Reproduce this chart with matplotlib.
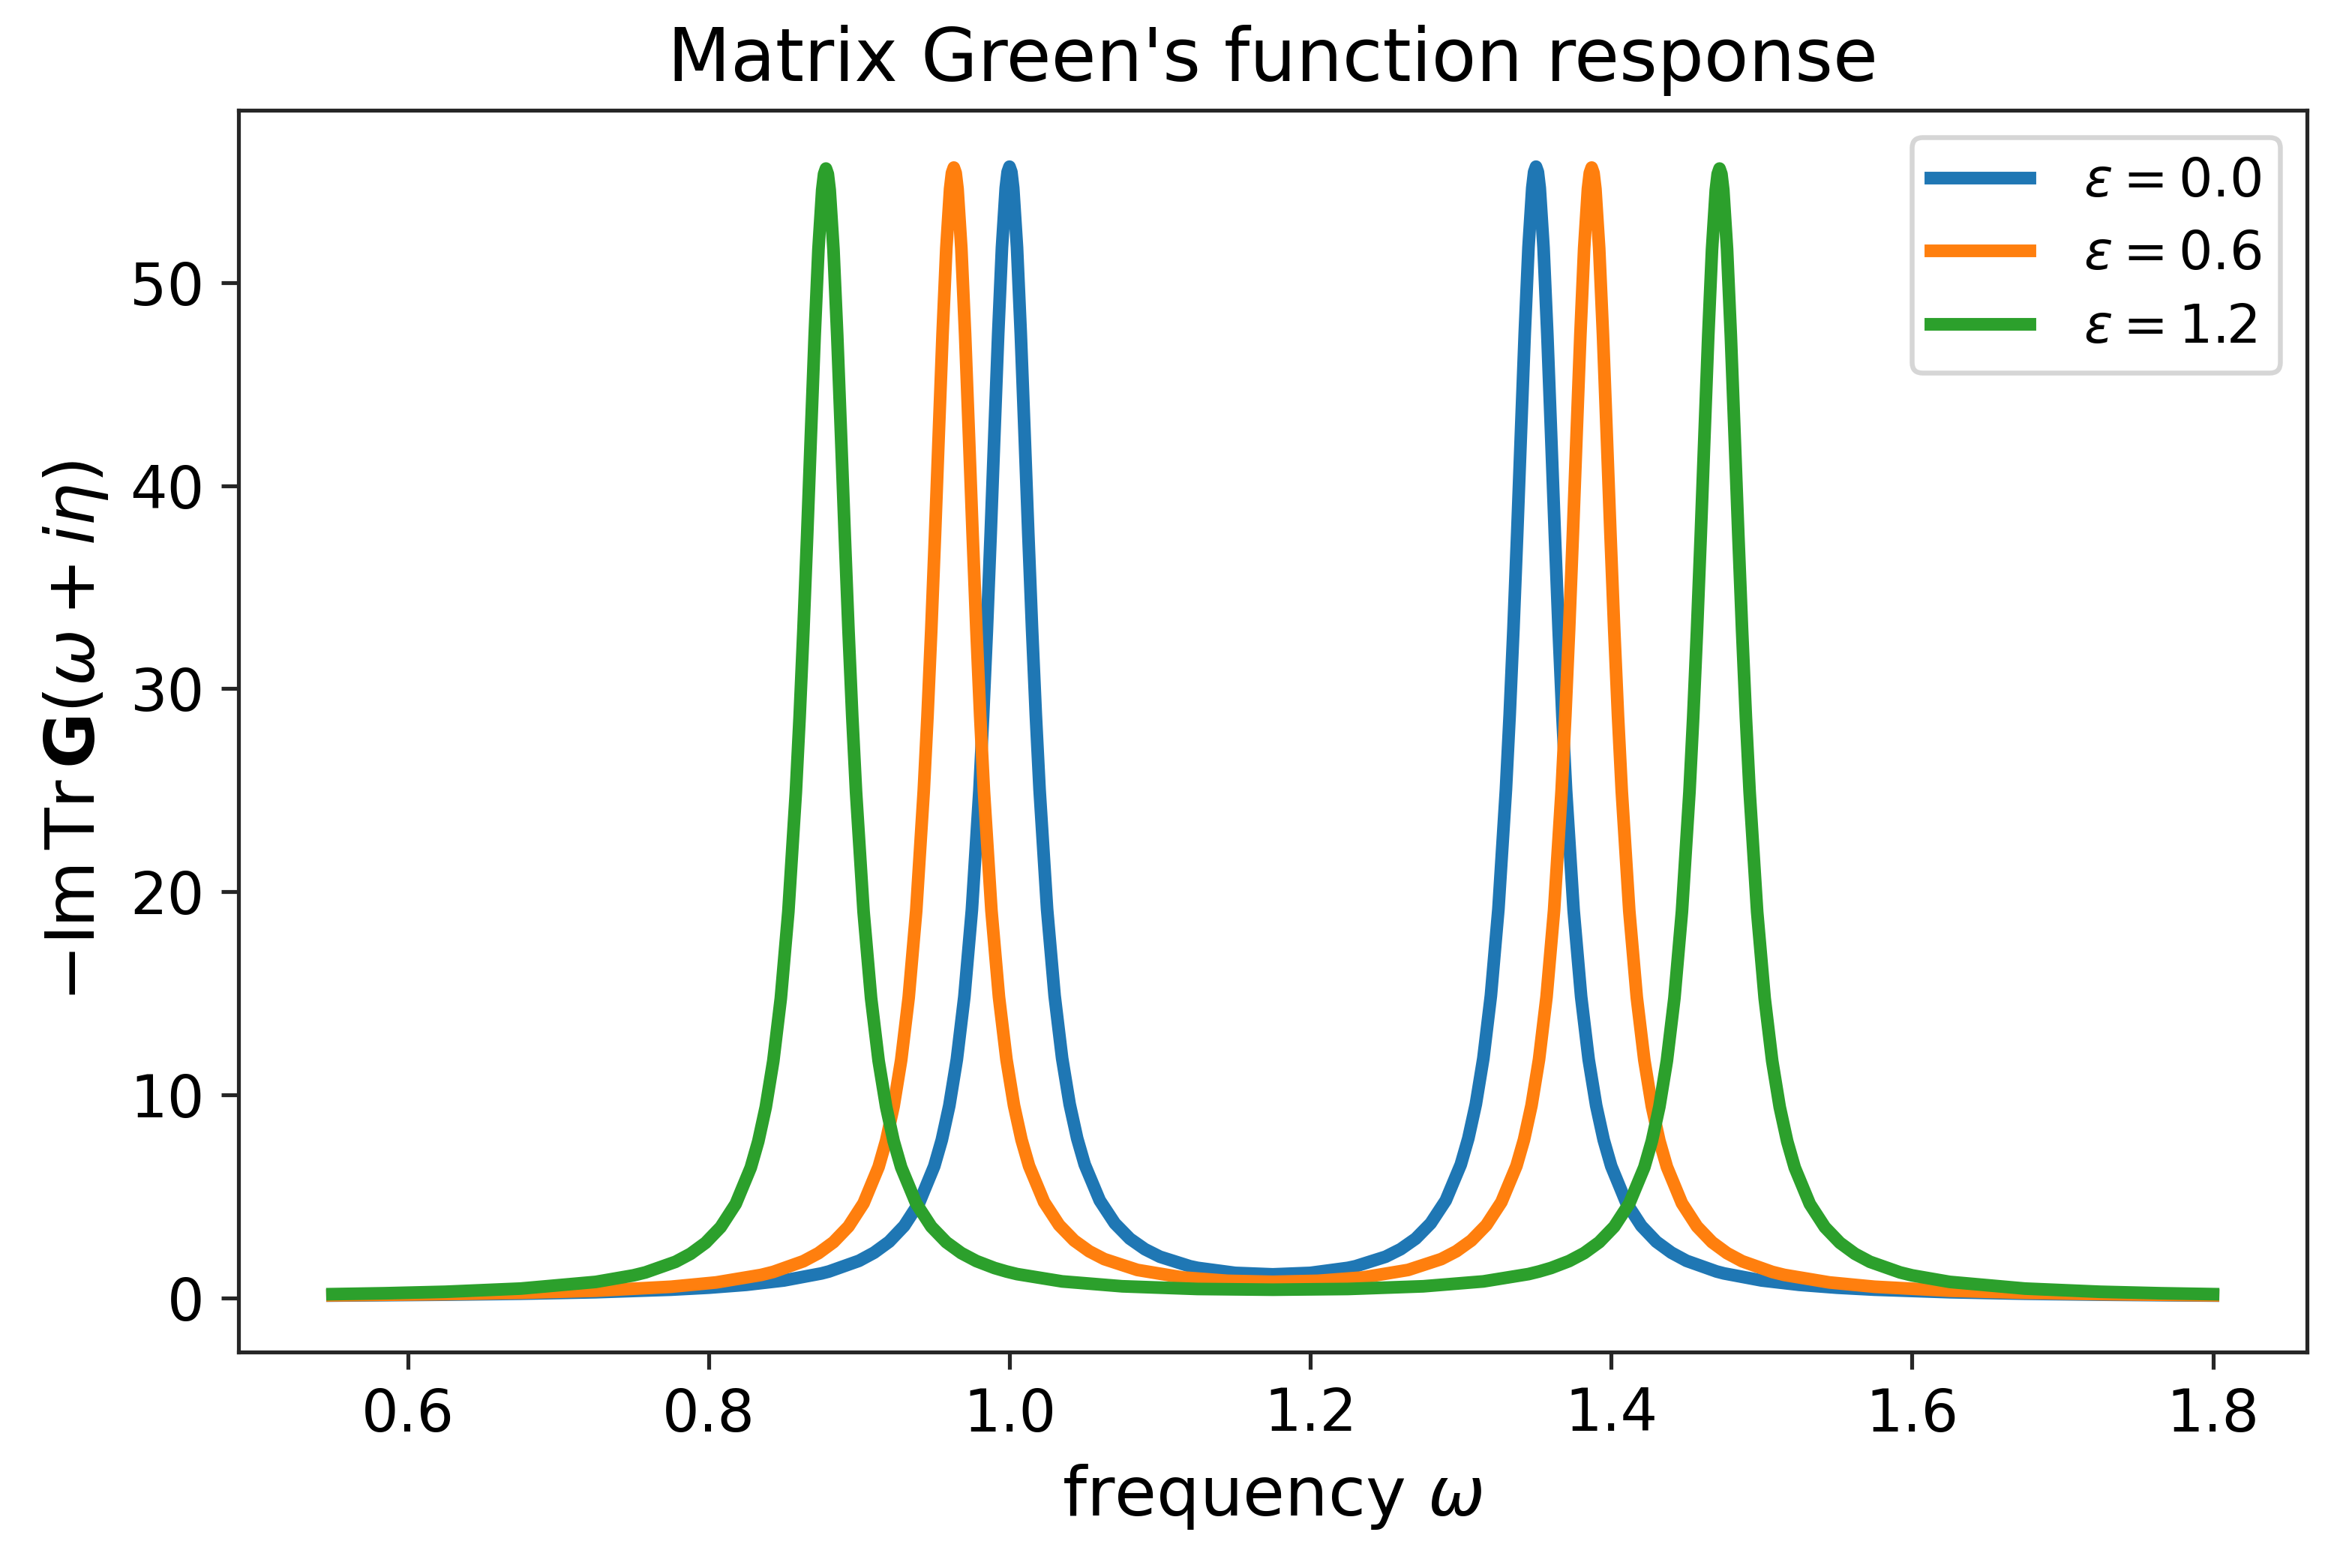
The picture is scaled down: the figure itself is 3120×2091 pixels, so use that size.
import matplotlib
matplotlib.use("Agg")
import matplotlib.pyplot as plt

# Values (symmetric about omega = 1.175)
omega_eps00 = [0.55, 0.625, 0.675, 0.725, 0.775, 0.8, 0.825, 0.85, 0.875, 0.9, 0.92, 0.94, 0.95, 0.96, 0.97,
               0.975, 0.98, 0.985, 0.9875, 0.99, 0.9925, 0.995, 0.9975, 1.0, 1.0025, 1.005, 1.0075, 1.01,
               1.0125, 1.015, 1.02, 1.025, 1.03, 1.04, 1.05, 1.06, 1.08, 1.1, 1.125, 1.15, 1.175,
               1.2, 1.225, 1.25, 1.27, 1.29, 1.30, 1.31, 1.32, 1.325, 1.33, 1.335, 1.3375, 1.34, 1.3425,
               1.345, 1.3475, 1.35, 1.3525, 1.355, 1.3575, 1.36, 1.3625, 1.365, 1.37, 1.375, 1.38, 1.39,
               1.40, 1.41, 1.43, 1.45, 1.475, 1.5, 1.525, 1.55, 1.575, 1.625, 1.675, 1.725, 1.8,
               1.12, 1.23, 1.09, 1.26, 1.07, 1.28, 1.045, 1.305, 1.035, 1.315, 1.0175, 1.3325,
               0.9825, 1.3675, 0.965, 1.385, 0.955, 1.395, 0.93, 1.42, 0.91, 1.44, 0.88, 1.47,
               0.99875, 1.00125, 1.34875, 1.35125]
resp_eps00 = [0.117, 0.162, 0.209, 0.283, 0.408, 0.506, 0.647, 0.861, 1.208, 1.83, 2.77, 4.69, 6.49, 9.47, 14.83,
              19.10, 24.99, 32.92, 37.62, 42.59, 47.48, 51.72, 54.65, 55.70, 54.65, 51.73, 47.49, 42.61,
              37.64, 32.95, 25.03, 19.14, 14.88, 9.54, 6.57, 4.80, 2.92, 2.03, 1.482, 1.235, 1.163,
              1.235, 1.482, 2.03, 2.92, 4.80, 6.57, 9.54, 14.88, 19.14, 25.03, 32.95, 37.64, 42.61, 47.49,
              51.73, 54.65, 55.70, 54.65, 51.72, 47.48, 42.59, 37.62, 32.92, 24.99, 19.10, 14.83, 9.47,
              6.49, 4.69, 2.77, 1.83, 1.208, 0.861, 0.647, 0.506, 0.408, 0.283, 0.209, 0.162, 0.117,
              1.561, 1.561, 2.402, 2.402, 3.675, 3.675, 7.856, 7.856, 11.80, 11.80, 28.72, 28.72,
              28.69, 28.69, 11.74, 11.74, 7.778, 7.778, 3.548, 3.548, 2.230, 2.230, 1.304, 1.304,
              55.44, 55.44, 55.44, 55.44]

omega_eps06 = [0.55, 0.625, 0.675, 0.725, 0.775, 0.805, 0.835, 0.863, 0.883, 0.903, 0.913, 0.923, 0.933, 0.938,
               0.943, 0.948, 0.9505, 0.953, 0.9555, 0.958, 0.9605, 0.963, 0.9655, 0.968, 0.9705, 0.973,
               0.9755, 0.978, 0.983, 0.988, 0.993, 1.003, 1.013, 1.023, 1.043, 1.063, 1.085, 1.115, 1.145,
               1.175, 1.205, 1.235, 1.265, 1.287, 1.307, 1.327, 1.337, 1.347, 1.357, 1.362, 1.367, 1.372,
               1.3745, 1.377, 1.3795, 1.382, 1.3845, 1.387, 1.3895, 1.392, 1.3945, 1.397, 1.3995, 1.402,
               1.407, 1.412, 1.417, 1.427, 1.437, 1.447, 1.467, 1.487, 1.515, 1.545, 1.575, 1.625, 1.675,
               1.725, 1.8,
               1.053, 1.297, 1.033, 1.317, 1.008, 1.342, 0.998, 1.352, 0.9805, 1.3695,
               0.9455, 1.4045, 0.928, 1.422, 0.918, 1.432, 0.893, 1.457, 0.873, 1.477, 0.843, 1.507,
               0.96175, 0.96425, 1.38575, 1.38825]
resp_eps06 = [0.131, 0.188, 0.252, 0.357, 0.553, 0.765, 1.136, 1.809, 2.748, 4.664, 6.454, 9.440, 14.793, 19.056,
              24.953, 32.880, 37.575, 42.548, 47.434, 51.674, 54.603, 55.656, 54.605, 51.678, 47.441, 42.558,
              37.587, 32.894, 24.972, 19.080, 14.822, 9.478, 6.502, 4.723, 2.829, 1.914, 1.380, 1.011, 0.844,
              0.795, 0.844, 1.011, 1.380, 1.914, 2.829, 4.723, 6.502, 9.478, 14.822, 19.080, 24.972, 32.894,
              37.587, 42.558, 47.441, 51.678, 54.605, 55.656, 54.603, 51.674, 47.434, 42.548, 37.575, 32.880,
              24.953, 19.056, 14.793, 9.440, 6.454, 4.664, 2.748, 1.809, 1.136, 0.765, 0.553, 0.357, 0.252,
              0.188, 0.131,
              2.298, 2.298, 3.589, 3.589, 7.788, 7.788, 11.74, 11.74, 28.67, 28.67,
              28.65, 28.65, 11.71, 11.71, 7.745, 7.745, 3.520, 3.520, 2.205, 2.205, 1.283, 1.283,
              55.39, 55.39, 55.39, 55.39]

omega_eps12 = [0.55, 0.585, 0.625, 0.675, 0.725, 0.75, 0.778, 0.798, 0.818, 0.828, 0.838, 0.848, 0.853, 0.858,
               0.863, 0.8655, 0.868, 0.8705, 0.873, 0.8755, 0.878, 0.8805, 0.883, 0.8855, 0.888, 0.8905,
               0.893, 0.898, 0.903, 0.908, 0.918, 0.928, 0.938, 0.958, 0.978, 0.99, 1.005, 1.035, 1.075,
               1.125, 1.175, 1.225, 1.275, 1.315, 1.345, 1.36, 1.372, 1.392, 1.412, 1.422, 1.432, 1.442,
               1.447, 1.452, 1.457, 1.4595, 1.462, 1.4645, 1.467, 1.4695, 1.472, 1.4745, 1.477, 1.4795,
               1.482, 1.4845, 1.487, 1.492, 1.497, 1.502, 1.512, 1.522, 1.532, 1.552, 1.572, 1.6, 1.625,
               1.675, 1.725, 1.765, 1.8,
               0.998, 1.352, 0.968, 1.382, 0.948, 1.402, 0.923, 1.427, 0.913, 1.437, 0.8955, 1.4545,
               0.8605, 1.4895, 0.843, 1.507, 0.833, 1.517, 0.808, 1.542, 0.788, 1.562, 0.758, 1.592,
               0.87675, 0.87925, 1.47075, 1.47325]
resp_eps12 = [0.188, 0.232, 0.305, 0.462, 0.791, 1.112, 1.780, 2.717, 4.629, 6.417, 9.401, 14.752, 19.014, 24.910,
              32.836, 37.530, 42.502, 47.387, 51.626, 54.555, 55.607, 54.555, 51.628, 47.389, 42.506, 37.534,
              32.841, 24.917, 19.023, 14.763, 9.415, 6.435, 4.650, 2.745, 1.817, 1.476, 1.176, 0.815, 0.574,
              0.443, 0.407, 0.443, 0.574, 0.815, 1.176, 1.476, 1.817, 2.745, 4.650, 6.435, 9.415, 14.763,
              19.023, 24.917, 32.841, 37.534, 42.506, 47.389, 51.628, 54.555, 55.607, 54.555, 51.626, 47.387,
              42.502, 37.530, 32.836, 24.910, 19.014, 14.752, 9.401, 6.417, 4.629, 2.717, 1.780, 1.112, 0.791,
              0.462, 0.305, 0.232, 0.188,
              1.303, 1.303, 2.208, 2.208, 3.512, 3.512, 7.723, 7.723, 11.68, 11.68, 28.61, 28.61,
              28.61, 28.61, 11.67, 11.67, 7.707, 7.707, 3.487, 3.487, 2.175, 2.175, 1.258, 1.258,
              55.34, 55.34, 55.34, 55.34]

series_labels = [r'$\varepsilon=0.0$', r'$\varepsilon=0.6$', r'$\varepsilon=1.2$']
series_x = [omega_eps00, omega_eps06, omega_eps12]
series_y = [resp_eps00, resp_eps06, resp_eps12]
colors = ['#1f77b4', '#ff7f0e', '#2ca02c']

fig = plt.figure(figsize=(3120 / 468, 2091 / 468), dpi=468)
ax = fig.add_axes([318 / 3120, 1 - 1803 / 2091, (3076 - 318) / 3120, (1803 - 147) / 2091])

for xs, ys, lab, c in zip(series_x, series_y, series_labels, colors):
    pts = sorted(zip(xs, ys))
    ax.plot([p[0] for p in pts], [p[1] for p in pts], color=c, lw=2.6, label=lab,
            solid_joinstyle='round')

ax.set_xticks([0.6, 0.8, 1.0, 1.2, 1.4, 1.6, 1.8])
ax.set_yticks([0, 10, 20, 30, 40, 50])
ax.tick_params(labelsize=12, colors='#262626', labelcolor='black')
for s in ax.spines.values():
    s.set_color('#262626')

ax.set_xlabel(r'frequency $\omega$', fontsize=14)
ax.set_ylabel(r'$-\mathrm{Im}\,\mathrm{Tr}\,\mathbf{G}(\omega+i\eta)$', fontsize=14)
ax.set_title("Matrix Green's function response", fontsize=15)
ax.legend(loc='upper right', fontsize=11, handletextpad=1.0, handlelength=1.85,
          labelspacing=0.4, borderpad=0.35)

fig.savefig('out.png', dpi=468)
